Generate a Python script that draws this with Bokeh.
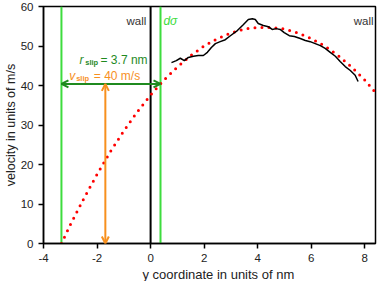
from bokeh.plotting import figure
from bokeh.models import Range1d, FixedTicker, Label, Arrow, OpenHead, Title
from bokeh.embed import file_html
from bokeh.resources import INLINE

# ---- data ----
red_x = [-3.33, -3.0, -2.5, -2.0, -1.5, -1.0, -0.5, 0.0, 0.5, 1.0, 1.5, 2.0, 2.5, 3.0,
         3.5, 4.0, 4.5, 5.0, 5.5, 6.0, 6.5, 7.0, 7.5, 8.0, 8.4]
red_v = [0.0, 4.7, 11.3, 17.5, 23.3, 28.5, 33.3, 37.6, 41.4, 44.7, 47.6, 50.0, 51.9, 53.3,
         54.3, 54.7, 54.7, 54.3, 53.3, 51.9, 50.0, 47.6, 44.7, 41.4, 38.2]

sim_x = [0.78, 0.96, 1.11, 1.26, 1.41, 1.60, 1.78, 1.97, 2.12, 2.27, 2.42, 2.60, 2.79, 2.98,
         3.24, 3.46, 3.65, 3.80, 3.91, 4.02, 4.21, 4.40, 4.54, 4.69, 4.84, 4.99, 5.18, 5.37,
         5.59, 5.78, 5.96, 6.15, 6.34, 6.52, 6.71, 6.90, 7.08, 7.27, 7.46, 7.64, 7.75]
sim_v = [45.8, 46.3, 46.9, 46.3, 47.1, 47.4, 47.6, 47.6, 48.4, 49.6, 50.6, 51.1, 51.6, 52.6,
         53.9, 55.4, 56.7, 56.9, 56.7, 55.7, 55.2, 54.9, 54.2, 54.4, 54.2, 53.4, 52.6, 52.4,
         51.9, 51.4, 51.1, 50.6, 50.1, 49.4, 48.4, 47.4, 46.1, 44.8, 43.8, 42.6, 41.0]

wall_x = 0.0
slip_left = -3.33
dsigma_x = 0.37
v_slip = 40.4
arrow_x = -1.69

x_ticks = [-4, -2, 0, 2, 4, 6, 8]
y_ticks = [0, 10, 20, 30, 40, 50, 60]
x_label = "y coordinate in units of nm"
y_label = "velocity in units of m/s"

FONT = "Liberation Sans"
LGREEN = "#3ddc3d"
DGREEN = "#1f8a1f"
ORANGE = "#f7901e"

p = figure(width=380, height=281, output_backend="svg", toolbar_location=None,
           x_range=Range1d(-4, 8.4), y_range=Range1d(0, 60),
           min_border_left=43, min_border_right=5, min_border_top=6, min_border_bottom=36)
p.grid.visible = False
p.outline_line_color = "black"
p.outline_line_width = 1.5
p.xaxis.ticker = FixedTicker(ticks=x_ticks)
p.yaxis.ticker = FixedTicker(ticks=y_ticks)
p.xaxis.major_label_overrides = {t: str(t) for t in x_ticks}
for ax in (p.xaxis, p.yaxis):
    ax.axis_line_color = "black"
    ax.axis_line_width = 1.5
    ax.major_tick_line_color = "black"
    ax.major_tick_line_width = 1.5
    ax.major_tick_in = 0
    ax.major_tick_out = 5
    ax.minor_tick_line_color = None
    ax.major_label_text_font = FONT
    ax.major_label_text_font_size = "11.5px"
    ax.major_label_text_color = "#222222"
p.xaxis.major_label_standoff = 5
p.yaxis.major_label_standoff = 5

# axis titles placed in the side panels
p.add_layout(Title(text=x_label, align="left", offset=99, standoff=0,
                   text_font=FONT, text_font_size="13px", text_font_style="normal",
                   text_color="#222222"), "below")
p.add_layout(Title(text=y_label, align="center", offset=-1, standoff=0,
                   text_font=FONT, text_font_size="12.5px", text_font_style="normal",
                   text_color="#222222"), "left")

# vertical lines
p.line([wall_x, wall_x], [0, 60], line_color="black", line_width=2)
p.line([slip_left, slip_left], [0, 60], line_color=LGREEN, line_width=2)
p.line([dsigma_x, dsigma_x], [0, 60], line_color=LGREEN, line_width=2)

# fit curve (dotted)
p.line(red_x, red_v, line_color="red", line_width=3, line_dash="0 7", line_cap="round")
# simulation profile
p.line(sim_x, sim_v, line_color="black", line_width=1.5)

# arrows
p.add_layout(Arrow(x_start=slip_left, y_start=v_slip, x_end=dsigma_x, y_end=v_slip,
                   line_color=DGREEN, line_width=2,
                   start=OpenHead(size=7, line_color=DGREEN, line_width=2),
                   end=OpenHead(size=7, line_color=DGREEN, line_width=2)))
p.add_layout(Arrow(x_start=arrow_x, y_start=0, x_end=arrow_x, y_end=v_slip,
                   line_color=ORANGE, line_width=2,
                   start=OpenHead(size=7, line_color=ORANGE, line_width=2),
                   end=OpenHead(size=7, line_color=ORANGE, line_width=2)))

def lab(x, y, t, color, size="12px", style="normal", align="left", **kw):
    p.add_layout(Label(x=x, y=y, text=t, text_color=color, text_font=FONT,
                       text_font_size=size, text_font_style=style, text_align=align,
                       text_baseline="alphabetic", **kw))

# wall labels
lab(-0.16, 56.4, "wall", "#333333", size="11.5px", align="right")
lab(8.33, 56.4, "wall", "#333333", size="11.5px", align="right")
lab(0.48, 56.4, "d\u03c3", LGREEN, style="italic")

# slip annotations
lab(-2.66, 46.4, "r", DGREEN, style="italic")
lab(-2.44, 45.7, "slip", DGREEN, size="7.5px", style="bold")
lab(-1.87, 46.4, "= 3.7 nm", DGREEN)
lab(-3.04, 42.35, "v", ORANGE, style="italic")
lab(-2.78, 41.65, "slip", ORANGE, size="7.5px", style="bold")
lab(-2.12, 42.35, "= 40 m/s", ORANGE)

open("out.html", "w").write(file_html(p, INLINE))
